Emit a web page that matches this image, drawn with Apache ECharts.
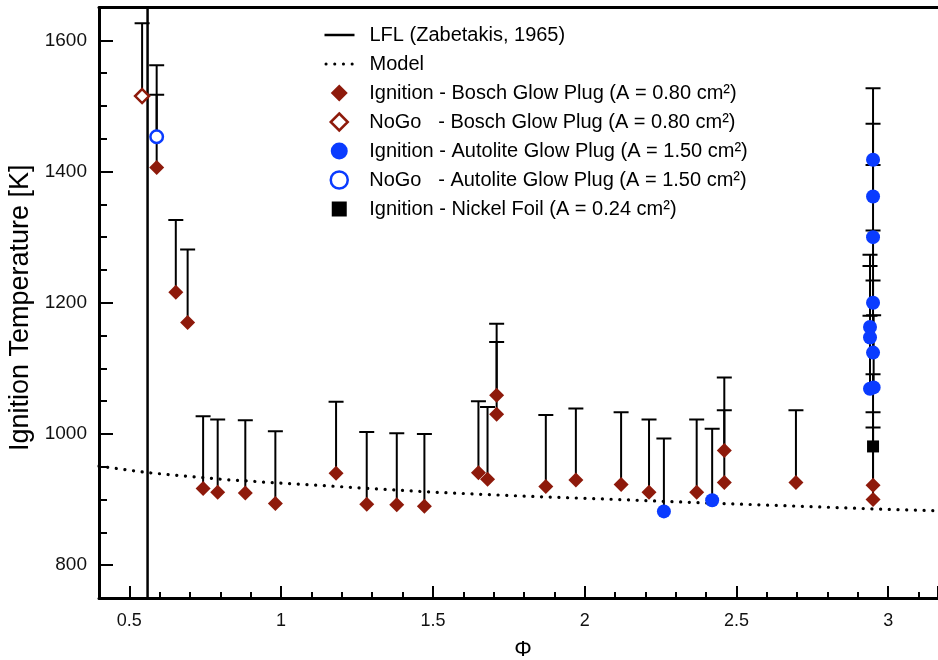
<!DOCTYPE html>
<html>
<head>
<meta charset="utf-8">
<script src="https://cdn.jsdelivr.net/npm/echarts@6/dist/echarts.min.js"></script>
<style>
  html, body { margin: 0; padding: 0; background: #fff; }
  #chart { width: 938px; height: 660px; }
</style>
</head>
<body>
<div id="chart"></div>
<script>
// ---- Data ----
const lflPhi = 0.56;

const modelPhi = [0.4, 0.56, 0.8, 1.0, 1.13, 1.47, 1.66, 1.87, 2.06, 2.17, 2.42, 2.7, 3.0, 3.164];
const modelT   = [951, 941, 931, 925, 921.5, 912, 908, 904, 901, 899, 894.5, 890, 885, 883];

// Ignition - Bosch glow plug: phi, temperature, top of error bar
const boschIgnPhi = [0.59, 0.653, 0.692, 0.743, 0.791, 0.882, 0.981, 1.181, 1.282, 1.381, 1.472, 1.65, 1.68, 1.71, 1.71, 1.872, 1.971, 2.12, 2.212, 2.369, 2.46, 2.46, 2.696, 2.95, 2.95];
const boschIgnT   = [1406, 1216, 1170, 917, 911, 910, 894, 940, 893, 892, 890, 941, 931, 1059, 1030, 920, 930, 923, 911, 911, 975, 926, 926, 922, 900];
const boschIgnTop = [1517, 1326, 1281, 1027, 1022, 1021, 1004, 1049, 1003, 1001, 1000, 1050, 1041, 1168, 1140, 1029, 1039, 1033, 1022, 1022, 1086, 1036, 1036, 1033, 1010];

// NoGo - Bosch glow plug
const boschNoGoPhi = [0.542];
const boschNoGoT   = [1515];
const boschNoGoTop = [1626];

// Ignition - Autolite glow plug
const autoIgnPhi = [2.261, 2.42, 2.95, 2.95, 2.95, 2.95, 2.94, 2.94, 2.95, 2.94, 2.952];
const autoIgnT   = [882, 899, 1418, 1362, 1300, 1200, 1163, 1147, 1124, 1069, 1071];
const autoIgnTop = [993, 1008, 1527, 1473, 1410, 1310, 1273, 1256, 1234, 1180, 1181];

// NoGo - Autolite glow plug
const autoNoGoPhi = [0.59];
const autoNoGoT   = [1453];
const autoNoGoTop = [1562];

// Ignition - Nickel foil
const nickelPhi = [2.95];
const nickelT   = [981];
const nickelTop = [1091];

const seriesNames = [
  'LFL (Zabetakis, 1965)',
  'Model',
  'Ignition - Bosch Glow Plug (A = 0.80 cm²)',
  'NoGo   - Bosch Glow Plug (A = 0.80 cm²)',
  'Ignition - Autolite Glow Plug (A = 1.50 cm²)',
  'NoGo   - Autolite Glow Plug (A = 1.50 cm²)',
  'Ignition - Nickel Foil (A = 0.24 cm²)'
];

// ---- Build series data ----
const zip2 = (a, b) => a.map((v, i) => [v, b[i]]);
const zip3 = (a, b, c) => a.map((v, i) => [v, b[i], c[i]]);

const errData = [].concat(
  zip3(boschIgnPhi, boschIgnT, boschIgnTop),
  zip3(boschNoGoPhi, boschNoGoT, boschNoGoTop),
  zip3(autoIgnPhi, autoIgnT, autoIgnTop),
  zip3(autoNoGoPhi, autoNoGoT, autoNoGoTop),
  zip3(nickelPhi, nickelT, nickelTop)
);

const RED = '#8e1a0b';
const BLUE = '#0a3bff';
const FONT = "'Liberation Sans', Arial, Helvetica, sans-serif";

const xMin = 0.4, xMax = 3.164, yMin = 750, yMax = 1650;

const chart = echarts.init(document.getElementById('chart'), null, { renderer: 'canvas' });

const legendText = { fontFamily: FONT, fontSize: 20, color: '#000', lineHeight: 20 };

const option = {
  animation: false,
  backgroundColor: '#fff',
  textStyle: { fontFamily: FONT },
  grid: { left: 99, right: 0, top: 7.5, bottom: 62, containLabel: false, outerBoundsMode: 'none' },
  legend: [
    {
      orient: 'vertical',
      left: 323,
      top: 25,
      padding: 0,
      itemWidth: 30,
      itemHeight: 14,
      itemGap: 9,
      selectedMode: false,
      textStyle: Object.assign({ padding: [0, 0, 0, 10] }, legendText),
      data: [
        { name: seriesNames[0], itemStyle: { opacity: 0 }, lineStyle: { color: '#000', width: 2.5 } },
        { name: seriesNames[1], itemStyle: { opacity: 0 }, lineStyle: { color: '#000', width: 3, type: [0.1, 8.6], cap: 'round', dashOffset: -1.5 } }
      ]
    },
    {
      orient: 'vertical',
      left: 329.5,
      top: 83,
      padding: 0,
      itemWidth: 17,
      itemHeight: 17,
      itemGap: 9,
      selectedMode: false,
      textStyle: Object.assign({ padding: [0, 0, 0, 16.5] }, legendText),
      data: [
        { name: seriesNames[2], icon: 'diamond' },
        { name: seriesNames[3], icon: 'diamond', itemStyle: { color: '#fff', borderColor: RED, borderWidth: 2.5 } },
        { name: seriesNames[4], icon: 'circle' },
        { name: seriesNames[5], icon: 'circle', itemStyle: { color: '#fff', borderColor: BLUE, borderWidth: 2.5 } },
        { name: seriesNames[6], icon: 'rect', itemStyle: { borderColor: '#fff', borderWidth: 2 } }
      ]
    }
  ],
  xAxis: [
    {
      type: 'value',
      min: xMin,
      max: xMax,
      splitNumber: 5,
      name: 'Φ',
      nameLocation: 'middle',
      nameGap: 41,
      nameTextStyle: { fontFamily: FONT, fontSize: 22, color: '#000', padding: [0, 0, 0, 9] },
      axisLine: { show: true, onZero: false, lineStyle: { color: '#000', width: 3 } },
      axisTick: { show: true, inside: true, length: 12, lineStyle: { color: '#000', width: 2 } },
      minorTick: { show: true, splitNumber: 5, length: 6, lineStyle: { color: '#000', width: 2 } },
      axisLabel: { fontFamily: FONT, fontSize: 18, color: '#111', margin: 14, showMinLabel: false, showMaxLabel: false },
      splitLine: { show: false },
      minorSplitLine: { show: false }
    },
    {
      type: 'value',
      position: 'top',
      min: xMin,
      max: xMax,
      axisLine: { show: true, onZero: false, lineStyle: { color: '#000', width: 3 } },
      axisTick: { show: false },
      axisLabel: { show: false },
      splitLine: { show: false }
    }
  ],
  yAxis: {
    type: 'value',
    min: yMin,
    max: yMax,
    splitNumber: 5,
    name: 'Ignition Temperature [K]',
    nameLocation: 'middle',
    nameGap: 48,
    nameTextStyle: { fontFamily: FONT, fontSize: 27, color: '#000', padding: [0, 10, 0, 0] },
    axisLine: { show: true, onZero: false, lineStyle: { color: '#000', width: 3 } },
    axisTick: { show: true, inside: true, length: 14, lineStyle: { color: '#000', width: 2 } },
    minorTick: { show: true, splitNumber: 4, length: 8, lineStyle: { color: '#000', width: 2 } },
    axisLabel: {
      fontFamily: FONT, fontSize: 19, color: '#111', margin: 12,
      showMinLabel: false, showMaxLabel: false,
      formatter: function (v) { return String(v); }
    },
    splitLine: { show: false }
  },
  series: [
    {
      name: 'errorbars',
      type: 'custom',
      z: 2,
      data: errData,
      encode: { x: 0, y: [1, 2] },
      clip: true,
      renderItem: function (params, api) {
        const x = api.value(0), y = api.value(1), top = api.value(2);
        const p0 = api.coord([x, y]);
        const p1 = api.coord([x, top]);
        const hw = 7.5;
        return {
          type: 'group',
          children: [
            { type: 'line', shape: { x1: p0[0], y1: p0[1], x2: p1[0], y2: p1[1] }, style: { stroke: '#000', lineWidth: 2 } },
            { type: 'line', shape: { x1: p1[0] - hw, y1: p1[1], x2: p1[0] + hw, y2: p1[1] }, style: { stroke: '#000', lineWidth: 2 } }
          ]
        };
      }
    },
    {
      name: seriesNames[0],
      type: 'line',
      z: 3,
      symbol: 'none',
      data: [[lflPhi, yMin], [lflPhi, yMax]],
      lineStyle: { color: '#000', width: 2.5 },
      itemStyle: { color: '#000' }
    },
    {
      name: seriesNames[1],
      type: 'line',
      z: 3,
      symbol: 'none',
      data: zip2(modelPhi, modelT),
      lineStyle: { color: '#000', width: 3.2, type: [0.1, 8.6], cap: 'round' },
      itemStyle: { color: '#000' }
    },
    {
      name: seriesNames[2],
      type: 'scatter',
      z: 5,
      symbol: 'diamond',
      symbolSize: 15,
      data: zip2(boschIgnPhi, boschIgnT),
      itemStyle: { color: RED, opacity: 1 }
    },
    {
      name: seriesNames[3],
      type: 'scatter',
      z: 5,
      symbol: 'diamond',
      symbolSize: 14,
      data: zip2(boschNoGoPhi, boschNoGoT),
      itemStyle: { color: '#fff', borderColor: RED, borderWidth: 2.5, opacity: 1 }
    },
    {
      name: seriesNames[4],
      type: 'scatter',
      z: 5,
      symbol: 'circle',
      symbolSize: 14,
      data: zip2(autoIgnPhi, autoIgnT),
      itemStyle: { color: BLUE, opacity: 1 }
    },
    {
      name: seriesNames[5],
      type: 'scatter',
      z: 5,
      symbol: 'circle',
      symbolSize: 12.5,
      data: zip2(autoNoGoPhi, autoNoGoT),
      itemStyle: { color: '#fff', borderColor: BLUE, borderWidth: 2.5, opacity: 1 }
    },
    {
      name: seriesNames[6],
      type: 'scatter',
      z: 5,
      symbol: 'rect',
      symbolSize: 12,
      data: zip2(nickelPhi, nickelT),
      itemStyle: { color: '#000', opacity: 1 }
    }
  ]
};

chart.setOption(option);
</script>
</body>
</html>
